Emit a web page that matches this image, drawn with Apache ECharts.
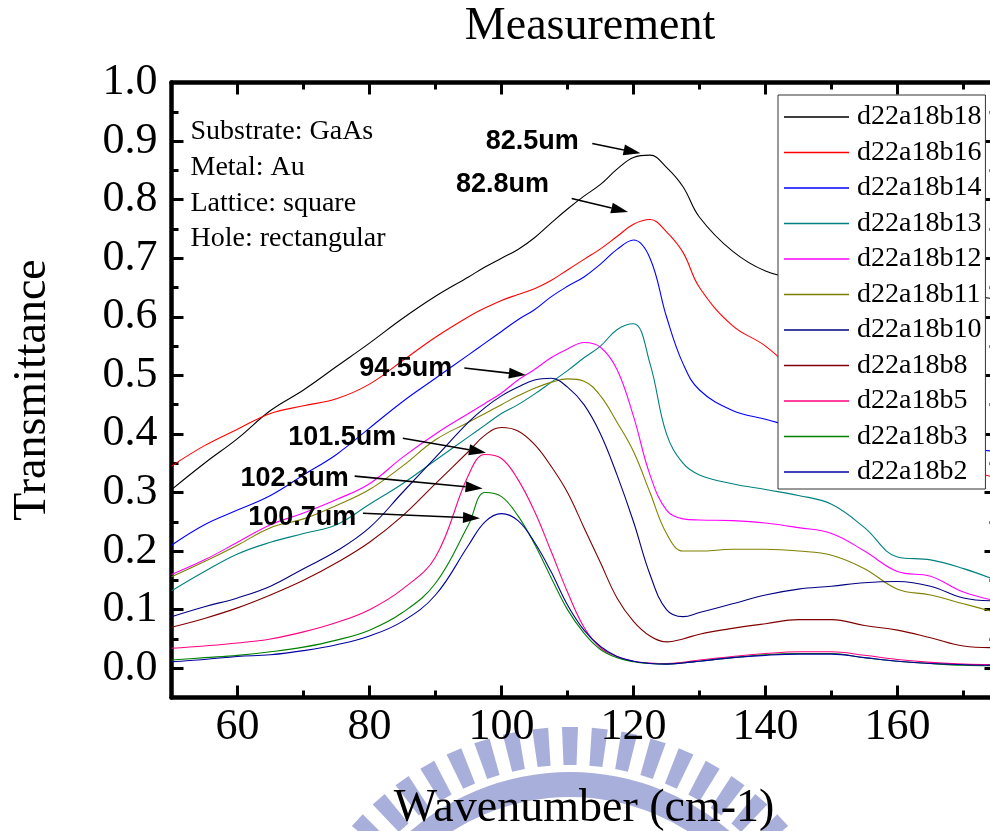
<!DOCTYPE html>
<html>
<head>
<meta charset="utf-8">
<script src="https://cdn.jsdelivr.net/npm/echarts@6/dist/echarts.min.js"></script>
<style>
html, body { margin: 0; padding: 0; background: #fff; overflow: hidden; }
#chart { width: 990px; height: 831px; }
</style>
</head>
<body>
<div id="chart"></div>
<script>
// Wavenumber sampling (cm-1) shared by all spectra
const wavenumber = [50,55,60,65,70,75,80,85,90,95,97.5,100,102.5,105,107.5,110,112.5,115,117.5,120,122.5,125,127.5,130,135,140,145,150,155,160,165,170,175];

// Transmittance spectra
const b18 = [0.305,0.35,0.392,0.44,0.475,0.515,0.555,0.597,0.635,0.668,0.685,0.7,0.715,0.735,0.76,0.784,0.806,0.826,0.852,0.872,0.876,0.855,0.822,0.77,0.712,0.678,0.665,0.66,0.655,0.65,0.645,0.638,0.63];
const b16 = [0.345,0.38,0.408,0.435,0.448,0.46,0.485,0.525,0.565,0.6,0.615,0.628,0.638,0.648,0.662,0.68,0.698,0.716,0.737,0.758,0.766,0.745,0.71,0.65,0.585,0.55,0.5,0.45,0.41,0.38,0.36,0.34,0.325];
const b14 = [0.21,0.245,0.27,0.295,0.33,0.365,0.41,0.455,0.495,0.535,0.555,0.575,0.595,0.612,0.634,0.652,0.668,0.69,0.715,0.731,0.7,0.6,0.52,0.475,0.44,0.425,0.41,0.4,0.39,0.385,0.38,0.375,0.37];
const b13 = [0.132,0.165,0.195,0.215,0.23,0.245,0.28,0.315,0.355,0.395,0.415,0.435,0.45,0.468,0.488,0.508,0.53,0.55,0.578,0.588,0.52,0.4,0.35,0.33,0.315,0.305,0.295,0.28,0.24,0.19,0.185,0.17,0.15];
const b12 = [0.16,0.185,0.215,0.245,0.265,0.288,0.315,0.36,0.4,0.435,0.452,0.47,0.492,0.51,0.53,0.545,0.556,0.548,0.51,0.43,0.33,0.27,0.255,0.253,0.252,0.248,0.24,0.23,0.2,0.165,0.157,0.13,0.115];
const b11 = [0.156,0.182,0.21,0.24,0.255,0.278,0.305,0.345,0.39,0.42,0.435,0.45,0.465,0.478,0.488,0.494,0.49,0.465,0.42,0.37,0.3,0.23,0.2,0.2,0.203,0.203,0.2,0.193,0.17,0.135,0.125,0.11,0.095];
const b10 = [0.088,0.105,0.12,0.14,0.17,0.2,0.24,0.3,0.36,0.42,0.445,0.465,0.48,0.492,0.495,0.48,0.45,0.4,0.33,0.25,0.16,0.1,0.088,0.095,0.11,0.125,0.135,0.14,0.146,0.148,0.14,0.12,0.115];
const b8  = [0.07,0.085,0.103,0.125,0.15,0.18,0.215,0.26,0.315,0.37,0.398,0.411,0.405,0.382,0.345,0.3,0.24,0.18,0.12,0.08,0.055,0.045,0.05,0.058,0.068,0.076,0.083,0.083,0.073,0.065,0.052,0.038,0.035];
const b5  = [0.034,0.038,0.043,0.05,0.062,0.078,0.1,0.135,0.19,0.33,0.365,0.358,0.322,0.268,0.2,0.13,0.07,0.035,0.02,0.012,0.009,0.008,0.01,0.014,0.02,0.025,0.028,0.028,0.022,0.015,0.01,0.007,0.006];
const b3  = [0.014,0.018,0.022,0.028,0.036,0.048,0.065,0.095,0.145,0.245,0.3,0.293,0.26,0.212,0.155,0.1,0.06,0.032,0.018,0.011,0.008,0.007,0.009,0.012,0.018,0.023,0.025,0.025,0.018,0.012,0.008,0.005,0.004];
const b2  = [0.011,0.015,0.02,0.023,0.03,0.04,0.055,0.08,0.125,0.21,0.25,0.264,0.252,0.215,0.165,0.108,0.065,0.037,0.02,0.012,0.008,0.007,0.009,0.012,0.018,0.022,0.024,0.024,0.018,0.012,0.008,0.006,0.005];

const seriesNames  = ['d22a18b18','d22a18b16','d22a18b14','d22a18b13','d22a18b12','d22a18b11','d22a18b10','d22a18b8','d22a18b5','d22a18b3','d22a18b2'];
const seriesValues = [b18, b16, b14, b13, b12, b11, b10, b8, b5, b3, b2];
const seriesColors = ['#000000','#ff0000','#0000ff','#008080','#ff00ff','#808000','#000080','#800000','#ff0080','#008000','#0000a0'];

// Tick positions
const xMajorTicks = [60,80,100,120,140,160];
const xMinorTicks = [70,90,110,130,150,170];
const yMajorTicks = [0,0.1,0.2,0.3,0.4,0.5,0.6,0.7,0.8,0.9,1.0];
const yMinorTicks = [0.05,0.15,0.25,0.35,0.45,0.55,0.65,0.75,0.85,0.95];

// Sample description
const infoLines = ['Substrate: GaAs','Metal: Au','Lattice: square','Hole: rectangular'];

// Peak-wavelength callouts: label anchor (right edge), arrow tail and arrow head, in data units
const calloutText  = ['82.5um','82.8um','94.5um','101.5um','102.3um','100.7um'];
const calloutLabel = [[111.7,0.900],[107.2,0.825],[92.55,0.511],[84.05,0.394],[76.84,0.323],[78.0,0.258]];
const calloutTail  = [[113.75,0.896],[110.63,0.802],[94.37,0.5125],[85.05,0.3925],[77.75,0.328],[79.0,0.2645]];
const calloutHead  = [[121.06,0.879],[119.18,0.779],[103.69,0.5005],[97.64,0.368],[97.13,0.307],[96.74,0.256]];

const SERIF = "'Liberation Serif','Times New Roman',serif";
const SANS = "'Liberation Sans',Arial,sans-serif";
const XMIN = 50, XMAX = 175, YMIN = -0.05, YMAX = 1.0;

const chart = echarts.init(document.getElementById('chart'), null, { renderer: 'canvas' });

function xAxisDef(position, ticks, len, withLine, withLabels, name) {
  return {
    type: 'value', position: position, min: XMIN, max: XMAX, gridIndex: 0,
    axisLine: { show: withLine, onZero: false, lineStyle: { color: '#000', width: 4.5 } },
    axisTick: { show: true, inside: true, length: len, customValues: ticks, lineStyle: { color: '#000', width: 3 } },
    axisLabel: withLabels ? { show: true, customValues: ticks, margin: 8, fontFamily: SERIF, fontSize: 44, color: '#000' } : { show: false },
    splitLine: { show: false },
    name: name || '', nameLocation: 'middle', nameGap: 88,
    nameTextStyle: { fontFamily: SERIF, fontSize: 46, color: '#000' }
  };
}
function yAxisDef(position, ticks, len, withLine, withLabels, name) {
  return {
    type: 'value', position: position, min: YMIN, max: YMAX, gridIndex: 0,
    axisLine: { show: withLine, onZero: false, lineStyle: { color: '#000', width: 4.5 } },
    axisTick: { show: true, inside: true, length: len, customValues: ticks, lineStyle: { color: '#000', width: 3 } },
    axisLabel: withLabels ? { show: true, customValues: ticks, margin: 14, fontFamily: SERIF, fontSize: 44, color: '#000',
      formatter: v => Number(v).toFixed(1) } : { show: false },
    splitLine: { show: false },
    name: name || '', nameLocation: 'middle', nameGap: 116, nameRotate: 90,
    nameTextStyle: { fontFamily: SERIF, fontSize: 46, color: '#000' }
  };
}

const series = seriesNames.map((name, i) => ({
  name: name,
  type: 'line',
  xAxisIndex: 0, yAxisIndex: 0,
  data: wavenumber.map((w, k) => [w, seriesValues[i][k]]),
  smooth: 0.4,
  symbol: 'none',
  clip: true,
  lineStyle: { color: seriesColors[i], width: 1.1 },
  itemStyle: { color: seriesColors[i] },
  z: 3
}));

chart.setOption({
  animation: false,
  backgroundColor: '#fff',
  grid: { left: 171.5, right: -6.5, top: 82.5, bottom: 133.5, containLabel: false, outerBoundsMode: 'none' },
  xAxis: [
    xAxisDef('bottom', xMajorTicks, 12, true, true, 'Wavenumber (cm-1)'),
    xAxisDef('bottom', xMinorTicks, 7, false, false),
    xAxisDef('top', xMajorTicks, 12, true, false),
    xAxisDef('top', xMinorTicks, 7, false, false)
  ],
  yAxis: [
    yAxisDef('left', yMajorTicks, 12, true, true, 'Transmittance'),
    yAxisDef('left', yMinorTicks, 7, false, false),
    yAxisDef('right', yMajorTicks, 12, true, false),
    yAxisDef('right', yMinorTicks, 7, false, false)
  ],
  legend: {
    orient: 'vertical',
    left: 778, top: 95,
    padding: [8, 4, 3, 6],
    itemGap: 7.5,
    itemWidth: 65, itemHeight: 1.3,
    icon: 'rect',
    backgroundColor: '#fff',
    borderColor: '#333', borderWidth: 1,
    textStyle: { fontFamily: SERIF, fontSize: 28, lineHeight: 28, color: '#000', padding: [0, 0, 0, 3] },
    data: seriesNames
  },
  series: series
});

// Title, watermark emblem, sample description and callouts
function drawOverlays() {
  const toPx = p => chart.convertToPixel({ xAxisIndex: 0, yAxisIndex: 0 }, p);
  const g = [];

  // faint emblem behind the lower axis title: a ring of rays around a thick band
  const emblem = '#a9afdb';
  const ecx = 570, ecy = 1017;
  const rOut = 290, rIn = 252;
  g.push({ type: 'ring', z: -10, shape: { cx: ecx, cy: ecy, r: 245, r0: 220 }, style: { fill: emblem } });
  for (let a = -53.1; a <= 53.2; a += 5.9) {
    const t = a * Math.PI / 180;
    const hwOut = 8 / rOut, hwIn = 6.5 / rIn;
    const pts = [[rIn, t - hwIn], [rOut, t - hwOut], [rOut, t + hwOut], [rIn, t + hwIn]].map(([r, ang]) =>
      [ecx + r * Math.sin(ang), ecy - r * Math.cos(ang)]);
    g.push({ type: 'polygon', z: -10, shape: { points: pts }, style: { fill: emblem } });
  }

  g.push({
    type: 'text', x: 590, y: 27, z: 10,
    style: { text: 'Measurement', font: '46px ' + SERIF, fill: '#000', textAlign: 'center', textVerticalAlign: 'middle' }
  });
  infoLines.forEach((t, i) => {
    g.push({
      type: 'text', x: 190.5, y: 132 + i * 35.7, z: 10,
      style: { text: t, font: '28px ' + SERIF, fill: '#000', textAlign: 'left', textVerticalAlign: 'middle' }
    });
  });
  calloutText.forEach((t, i) => {
    const lab = toPx(calloutLabel[i]);
    const tail = toPx(calloutTail[i]);
    const head = toPx(calloutHead[i]);
    g.push({
      type: 'text', x: lab[0], y: lab[1], z: 10,
      style: { text: t, font: 'bold 27px ' + SANS, fill: '#000', textAlign: 'right', textVerticalAlign: 'middle' }
    });
    const dx = head[0] - tail[0], dy = head[1] - tail[1];
    const L = Math.sqrt(dx * dx + dy * dy);
    const ux = dx / L, uy = dy / L;
    const hl = 17, hw = 5.5;
    const bx = head[0] - ux * hl, by = head[1] - uy * hl;
    g.push({
      type: 'line', z: 10,
      shape: { x1: tail[0], y1: tail[1], x2: bx, y2: by },
      style: { stroke: '#000', lineWidth: 1.6 }
    });
    g.push({
      type: 'polygon', z: 10,
      shape: { points: [[head[0], head[1]], [bx - uy * hw, by + ux * hw], [bx + uy * hw, by - ux * hw]] },
      style: { fill: '#000' }
    });
  });
  chart.setOption({ graphic: g });
}
drawOverlays();
</script>
</body>
</html>
